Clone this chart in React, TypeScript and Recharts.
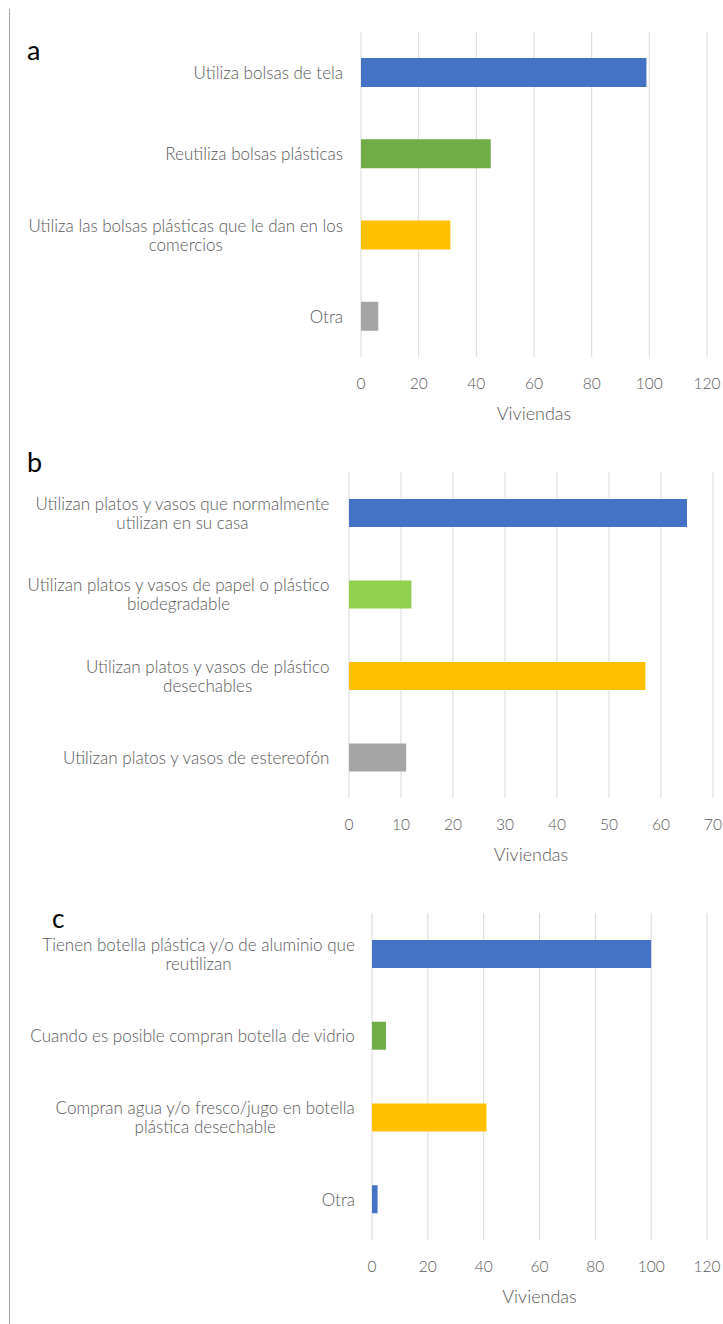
import React from 'react';
import { BarChart, Bar, XAxis, YAxis, CartesianGrid, Cell } from 'recharts';

// ---------- Data ----------
const catsA = [
  'Utiliza bolsas de tela',
  'Reutiliza bolsas plásticas',
  'Utiliza las bolsas plásticas que le dan en los\ncomercios',
  'Otra',
];
const valsA = [99, 45, 31, 6];
const colorsA = ['#4472C4', '#70AD47', '#FFC000', '#A5A5A5'];
const ticksA = [0, 20, 40, 60, 80, 100, 120];

const catsB = [
  'Utilizan platos y vasos que normalmente\nutilizan en su casa',
  'Utilizan platos y vasos de papel o plástico\nbiodegradable',
  'Utilizan platos y vasos de plástico\ndesechables',
  'Utilizan platos y vasos de estereofón',
];
const valsB = [65, 12, 57, 11];
const colorsB = ['#4472C4', '#92D050', '#FFC000', '#A5A5A5'];
const ticksB = [0, 10, 20, 30, 40, 50, 60, 70];

const catsC = [
  'Tienen botella plástica y/o de aluminio que\nreutilizan',
  'Cuando es posible compran botella de vidrio',
  'Compran agua y/o fresco/jugo en botella\nplástica desechable',
  'Otra',
];
const valsC = [100, 5, 41, 2];
const colorsC = ['#4472C4', '#70AD47', '#FFC000', '#4472C4'];
const ticksC = [0, 20, 40, 60, 80, 100, 120];

const axisTitle = 'Viviendas';

// ---------- Helpers ----------
const FONT = 'Lato, "Open Sans", sans-serif';
const TEXT = '#595959';
const WEIGHT = 300;

let ctx: CanvasRenderingContext2D | null = null;
function measure(text: string, size: number): number {
  if (!ctx) {
    const c = document.createElement('canvas');
    ctx = c.getContext('2d');
  }
  if (!ctx) return text.length * size * 0.5;
  ctx.font = `${WEIGHT} ${size}px Lato`;
  return ctx.measureText(text).width;
}

function makeYTick(fontSize: number, lineHeight: number) {
  return (props: any) => {
    const { x, y, payload } = props;
    const lines = String(payload.value).split('\n');
    const maxW = Math.max(...lines.map((l) => measure(l, fontSize)));
    const cx = x - maxW / 2;
    const startY = y - ((lines.length - 1) * lineHeight) / 2;
    return (
      <g>
        {lines.map((l, i) => (
          <text
            key={i}
            x={cx}
            y={startY + i * lineHeight}
            textAnchor="middle"
            dominantBaseline="central"
            fontSize={fontSize}
            fontFamily={FONT}
            fontWeight={WEIGHT}
            fill={TEXT}
          >
            {l}
          </text>
        ))}
      </g>
    );
  };
}

function makeXTick(fontSize: number) {
  return (props: any) => {
    const { x, y, payload } = props;
    return (
      <text
        x={x}
        y={y}
        textAnchor="middle"
        dominantBaseline="central"
        fontSize={fontSize}
        fontFamily={FONT}
        fontWeight={WEIGHT}
        fill={TEXT}
      >
        {payload.value}
      </text>
    );
  };
}

type PanelProps = {
  cats: string[];
  vals: number[];
  colors: string[];
  ticks: number[];
  top: number;
  height: number;
  marginTop: number;
  yWidth: number;
  marginRight: number;
  labelGap: number;
  labelSize: number;
  barSize: number;
};

function Panel(p: PanelProps) {
  const data = p.cats.map((name, i) => ({ name, value: p.vals[i] }));
  const max = p.ticks[p.ticks.length - 1];
  return (
    <div style={{ position: 'absolute', left: 0, top: p.top }}>
      <BarChart
        width={723}
        height={p.height}
        data={data}
        layout="vertical"
        margin={{ top: p.marginTop, right: p.marginRight, bottom: 0, left: 0 }}
        barCategoryGap={0}
      >
        <CartesianGrid horizontal={false} stroke="#D9D9D9" strokeWidth={1} />
        <XAxis
          type="number"
          domain={[0, max]}
          ticks={p.ticks}
          interval={0}
          axisLine={false}
          tickLine={false}
          tickSize={0}
          tickMargin={26}
          height={70}
          tick={makeXTick(15.5)}
          label={{
            content: (lp: any) => {
              const vb = lp.viewBox;
              return (
                <text
                  x={vb.x + vb.width / 2}
                  y={vb.y + 56}
                  textAnchor="middle"
                  dominantBaseline="central"
                  fontSize={18}
                  fontFamily={FONT}
                  fontWeight={WEIGHT}
                  fill={TEXT}
                >
                  {axisTitle}
                </text>
              );
            },
          }}
        />
        <YAxis
          type="category"
          dataKey="name"
          width={p.yWidth}
          interval={0}
          axisLine={false}
          tickLine={false}
          tickSize={0}
          tickMargin={p.labelGap}
          tick={makeYTick(p.labelSize, 19)}
        />
        <Bar dataKey="value" barSize={p.barSize} isAnimationActive={false}>
          {data.map((d, i) => (
            <Cell key={i} fill={p.colors[i]} />
          ))}
        </Bar>
      </BarChart>
    </div>
  );
}

export default function App() {
  return (
    <div
      style={{
        position: 'absolute',
        left: 0,
        top: 0,
        width: 723,
        height: 1324,
        background: '#ffffff',
        overflow: 'hidden',
      }}
    >
      <Panel
        cats={catsA}
        vals={valsA}
        colors={colorsA}
        ticks={ticksA}
        top={0}
        height={427}
        marginTop={32}
        yWidth={361}
        marginRight={16}
        labelGap={18}
        labelSize={17}
        barSize={29}
      />
      <Panel
        cats={catsB}
        vals={valsB}
        colors={colorsB}
        ticks={ticksB}
        top={440}
        height={428}
        marginTop={32}
        yWidth={349}
        marginRight={10}
        labelGap={19}
        labelSize={17}
        barSize={28}
      />
      <Panel
        cats={catsC}
        vals={valsC}
        colors={colorsC}
        ticks={ticksC}
        top={880}
        height={430}
        marginTop={33}
        yWidth={372}
        marginRight={16}
        labelGap={17}
        labelSize={17}
        barSize={28}
      />
      <svg
        width={723}
        height={1324}
        style={{ position: 'absolute', left: 0, top: 0, pointerEvents: 'none' }}
      >
        <line x1={9.5} y1={9} x2={9.5} y2={1324} stroke="#A6A6A6" strokeWidth={1} />
        <text x={27} y={60} fontSize={27} fontFamily={FONT} fill="#000">
          a
        </text>
        <text x={27} y={472} fontSize={27} fontFamily={FONT} fill="#000">
          b
        </text>
        <text x={52} y={928} fontSize={26} fontFamily={FONT} fill="#000">
          c
        </text>
      </svg>
    </div>
  );
}
